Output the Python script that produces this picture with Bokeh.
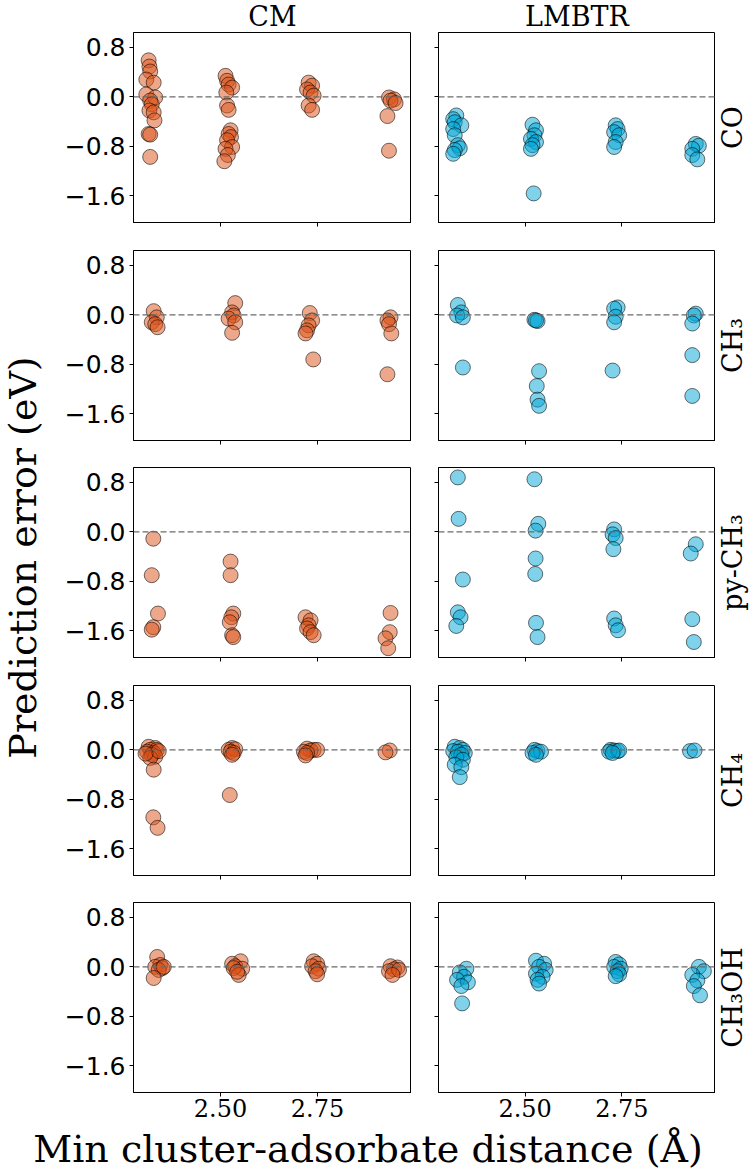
from bokeh.plotting import figure
from bokeh.layouts import row, column
from bokeh.models import (Range1d, FixedTicker, CustomJSTickFormatter, Span, Label)
from bokeh.embed import file_html
from bokeh.resources import INLINE

# ---------------- data ----------------
METHODS = ["CM", "LMBTR"]
ADSORBATES = ["CO", "CH₃", "py-CH₃", "CH₄", "CH₃OH"]
X_TICKS = [2.50, 2.75]
Y_TICKS = [-1.6, -0.8, 0.0, 0.8]
X_RANGE = (2.276, 2.992)
Y_RANGE = (-2.03, 1.04)
X_LABEL = "Min cluster-adsorbate distance (Å)"
Y_LABEL = "Prediction error (eV)"

CO_CM_X = [2.315, 2.317, 2.319, 2.309, 2.328, 2.309, 2.332, 2.319, 2.323, 2.317, 2.328, 2.330, 2.315, 2.319, 2.319,
           2.513, 2.517, 2.521, 2.530, 2.515, 2.517, 2.521, 2.526, 2.521, 2.527, 2.517, 2.530, 2.513, 2.519, 2.510,
           2.727, 2.736, 2.723, 2.732, 2.740, 2.727, 2.736,
           2.934, 2.947, 2.938, 2.951, 2.930, 2.934]
CO_CM_Y = [0.59, 0.49, 0.41, 0.28, 0.23, 0.04, -0.01, -0.06, -0.12, -0.22, -0.25, -0.38, -0.60, -0.61, -0.97,
           0.34, 0.26, 0.20, 0.15, 0.07, -0.14, -0.21, -0.54, -0.60, -0.65, -0.70, -0.81, -0.84, -0.94, -1.04,
           0.23, 0.18, 0.12, 0.07, 0.02, -0.14, -0.21,
           -0.01, -0.04, -0.06, -0.10, -0.31, -0.87]
CO_LMBTR_X = [2.322, 2.314, 2.318, 2.335, 2.314, 2.318, 2.326, 2.331, 2.318, 2.314,
              2.519, 2.528, 2.524, 2.515, 2.528, 2.519, 2.515, 2.522,
              2.734, 2.739, 2.730, 2.743, 2.734, 2.730,
              2.941, 2.949, 2.932, 2.932, 2.945]
CO_LMBTR_Y = [-0.30, -0.36, -0.41, -0.46, -0.52, -0.62, -0.78, -0.83, -0.86, -0.92,
              -0.45, -0.54, -0.62, -0.68, -0.73, -0.78, -0.84, -1.56,
              -0.46, -0.52, -0.57, -0.62, -0.73, -0.81,
              -0.76, -0.79, -0.84, -0.94, -1.01]

CH3_CM_X = [2.328, 2.336, 2.323, 2.332, 2.338,
            2.538, 2.530, 2.534, 2.521, 2.538, 2.530,
            2.730, 2.736, 2.727, 2.723, 2.719, 2.739,
            2.938, 2.930, 2.934, 2.940, 2.930]
CH3_CM_Y = [0.06, -0.04, -0.12, -0.15, -0.20,
            0.19, 0.04, -0.01, -0.06, -0.12, -0.29,
            0.03, -0.09, -0.17, -0.25, -0.30, -0.72,
            -0.04, -0.09, -0.15, -0.30, -0.96]
CH3_LMBTR_X = [2.326, 2.335, 2.324, 2.339, 2.339,
               2.524, 2.532, 2.528, 2.536, 2.530, 2.532, 2.536,
               2.739, 2.730, 2.734, 2.730, 2.726,
               2.941, 2.936, 2.932, 2.932, 2.932]
CH3_LMBTR_Y = [0.16, 0.04, -0.01, -0.04, -0.85,
               -0.08, -0.10, -0.09, -0.91, -1.15, -1.37, -1.47,
               0.12, 0.10, -0.03, -0.12, -0.90,
               0.02, -0.01, -0.14, -0.65, -1.31]

PYCH3_CM_X = [2.327, 2.323, 2.339, 2.327, 2.323,
              2.526, 2.526, 2.533, 2.528, 2.524, 2.530, 2.533,
              2.719, 2.732, 2.727, 2.723, 2.732, 2.740,
              2.938, 2.936, 2.925, 2.932]
PYCH3_CM_Y = [-0.11, -0.70, -1.32, -1.54, -1.58,
              -0.48, -0.70, -1.32, -1.38, -1.46, -1.67, -1.70,
              -1.38, -1.43, -1.51, -1.56, -1.62, -1.67,
              -1.31, -1.62, -1.72, -1.88]
PYCH3_LMBTR_X = [2.326, 2.328, 2.339, 2.326, 2.333, 2.322,
                 2.524, 2.534, 2.527, 2.527, 2.526, 2.528, 2.532,
                 2.730, 2.726, 2.734, 2.728, 2.730, 2.734, 2.740,
                 2.941, 2.928, 2.932, 2.936]
PYCH3_LMBTR_Y = [0.88, 0.21, -0.77, -1.30, -1.38, -1.52,
                 0.85, 0.13, 0.02, -0.43, -0.68, -1.47, -1.70,
                 0.04, -0.04, -0.10, -0.28, -1.40, -1.51, -1.59,
                 -0.20, -0.35, -1.41, -1.78]

CH4_CM_X = [2.315, 2.332, 2.319, 2.336, 2.311, 2.328, 2.323, 2.332, 2.319, 2.328, 2.327, 2.338, 2.341, 2.307,
            2.530, 2.521, 2.538, 2.526, 2.534, 2.530, 2.524,
            2.723, 2.740, 2.732, 2.715, 2.749, 2.723, 2.719,
            2.936, 2.925]
CH4_CM_Y = [0.05, 0.03, 0.00, 0.00, -0.03, -0.05, -0.08, -0.11, -0.13, -0.32, -1.09, -1.26, -0.02, -0.06,
            0.03, 0.00, 0.01, -0.03, -0.05, -0.08, -0.73,
            0.02, 0.00, -0.01, -0.03, 0.00, -0.05, -0.09,
            -0.01, -0.04]
CH4_LMBTR_X = [2.318, 2.331, 2.339, 2.314, 2.326, 2.344, 2.335, 2.322, 2.339, 2.318, 2.335, 2.331,
               2.524, 2.532, 2.541, 2.519, 2.528,
               2.721, 2.730, 2.739, 2.717, 2.743, 2.726,
               2.926, 2.938]
CH4_LMBTR_Y = [0.05, 0.03, 0.00, -0.02, -0.03, -0.05, -0.08, -0.12, -0.16, -0.24, -0.28, -0.44,
               0.00, -0.02, -0.03, -0.05, -0.08,
               0.00, -0.01, -0.02, -0.03, -0.01, -0.05,
               -0.02, -0.01]

CH3OH_CM_X = [2.337, 2.345, 2.332, 2.350, 2.341, 2.328, 2.354,
              2.552, 2.530, 2.538, 2.556, 2.534, 2.547, 2.543,
              2.740, 2.749, 2.736, 2.753, 2.745, 2.749,
              2.938, 2.956, 2.947, 2.934, 2.960, 2.943]
CH3OH_CM_Y = [0.16, 0.03, 0.00, -0.02, -0.05, -0.18, 0.00,
              0.09, 0.05, 0.01, -0.03, -0.02, -0.13, -0.08,
              0.09, 0.05, 0.01, -0.03, -0.07, -0.12,
              0.01, -0.01, -0.04, -0.07, -0.05, -0.13]
CH3OH_LMBTR_X = [2.348, 2.331, 2.342, 2.324, 2.352, 2.335, 2.337,
                 2.528, 2.549, 2.536, 2.553, 2.528, 2.545, 2.532, 2.536,
                 2.734, 2.743, 2.730, 2.747, 2.739, 2.743, 2.734,
                 2.949, 2.962, 2.932, 2.945, 2.936, 2.952]
CH3OH_LMBTR_Y = [-0.03, -0.09, -0.16, -0.21, -0.25, -0.31, -0.59,
                 0.10, 0.05, 0.00, -0.05, -0.11, -0.16, -0.21, -0.27,
                 0.08, 0.04, 0.00, -0.03, -0.07, -0.12, -0.15,
                 0.00, -0.07, -0.13, -0.22, -0.31, -0.46]

PANEL_DATA = [
    [(CO_CM_X, CO_CM_Y), (CO_LMBTR_X, CO_LMBTR_Y)],
    [(CH3_CM_X, CH3_CM_Y), (CH3_LMBTR_X, CH3_LMBTR_Y)],
    [(PYCH3_CM_X, PYCH3_CM_Y), (PYCH3_LMBTR_X, PYCH3_LMBTR_Y)],
    [(CH4_CM_X, CH4_CM_Y), (CH4_LMBTR_X, CH4_LMBTR_Y)],
    [(CH3OH_CM_X, CH3OH_CM_Y), (CH3OH_LMBTR_X, CH3OH_LMBTR_Y)],
]
COLORS = ["#DC5218", "#00A6D6"]

# ---------------- style / layout ----------------
SERIF = "DejaVu Serif"
SANS = "DejaVu Sans"
PAGE_W, PAGE_H = 750, 1170
YSTRIP_W = 45
RSTRIP_W = 35
TOP_H = 32
FRAME_H = 190
GAPS = [28, 27, 28, 27]
BOTTOM_EXTRA = 34
LEFT_BORDER = 88
LEFT_FRAME_W = 278
RIGHT_BORDER = 27
RIGHT_FRAME_W = 277
LEFT_W = LEFT_BORDER + LEFT_FRAME_W
RIGHT_W = RIGHT_BORDER + RIGHT_FRAME_W

y_fmt = CustomJSTickFormatter(code="return tick.toFixed(1).replace('-', '\u2212');")
x_fmt = CustomJSTickFormatter(code="return tick.toFixed(2);")
blank_fmt = CustomJSTickFormatter(code="return '';")


def text_strip(w, h):
    s = figure(width=w, height=h, output_backend="svg", toolbar_location=None,
               title=None, x_range=Range1d(0, w), y_range=Range1d(0, h),
               x_axis_location=None, y_axis_location=None,
               min_border=0, outline_line_color=None)
    s.grid.visible = False
    return s


n_rows = len(ADSORBATES)
rows = []
frame_tops = []
cur = TOP_H
for r, ads in enumerate(ADSORBATES):
    frame_tops.append(cur)
    bottom = BOTTOM_EXTRA if r == n_rows - 1 else GAPS[r]
    cur += FRAME_H + bottom
    h = FRAME_H + bottom
    figs = []
    for c, meth in enumerate(METHODS):
        if c == 0:
            w, bl = LEFT_W, LEFT_BORDER
        else:
            w, bl = RIGHT_W, RIGHT_BORDER
        p = figure(width=w, height=h, output_backend="svg", toolbar_location=None,
                   title=None, x_range=Range1d(*X_RANGE), y_range=Range1d(*Y_RANGE),
                   min_border_left=bl, min_border_right=0,
                   min_border_top=0, min_border_bottom=bottom)
        p.grid.visible = False
        p.outline_line_color = "black"
        p.outline_line_width = 1
        p.outline_line_alpha = 1
        p.background_fill_color = "white"
        p.border_fill_color = "white"
        for ax in (p.xaxis[0], p.yaxis[0]):
            ax.axis_line_color = "black"
            ax.major_tick_line_color = "black"
            ax.major_tick_out = 4
            ax.major_tick_in = 0
            ax.minor_tick_line_color = None
        p.xaxis.ticker = FixedTicker(ticks=X_TICKS, minor_ticks=[])
        p.yaxis.ticker = FixedTicker(ticks=Y_TICKS, minor_ticks=[])
        if c == 0:
            p.yaxis.formatter = y_fmt
            p.yaxis.major_label_text_font = SANS
            p.yaxis.major_label_text_font_size = "25px"
            p.yaxis.major_label_standoff = 4
            p.yaxis.major_label_text_color = "black"
        else:
            p.yaxis.formatter = blank_fmt
            p.yaxis.major_label_text_font_size = "1px"
        if r == n_rows - 1:
            p.xaxis.formatter = x_fmt
            p.xaxis.major_label_text_font = SERIF
            p.xaxis.major_label_text_font_size = "24px"
            p.xaxis.major_label_standoff = 2
            p.xaxis.major_label_text_color = "black"
        else:
            p.xaxis.formatter = blank_fmt
            p.xaxis.major_label_text_font_size = "1px"

        p.add_layout(Span(location=0, dimension="width", line_color="#6b6b6b",
                          line_dash="6 3", line_width=1.2))
        xs, ys = PANEL_DATA[r][c]
        p.scatter(xs, ys, size=15, fill_color=COLORS[c], fill_alpha=0.5,
                  line_color="black", line_alpha=0.55, line_width=1)
        figs.append(p)
    rows.append(row(*figs))

grid_h = cur

# column titles
top_strip = text_strip(LEFT_W + RIGHT_W, TOP_H)
col_centers = [LEFT_BORDER + LEFT_FRAME_W / 2, LEFT_W + RIGHT_BORDER + RIGHT_FRAME_W / 2]
for meth, cx in zip(METHODS, col_centers):
    top_strip.add_layout(Label(x=cx, y=TOP_H / 2, text=meth, text_align="center",
                               text_baseline="middle", text_font=SERIF,
                               text_font_size="27px", text_color="black"))

# row labels
rstrip = text_strip(RSTRIP_W, grid_h)
for r, ads in enumerate(ADSORBATES):
    cy = grid_h - (frame_tops[r] + FRAME_H / 2)
    rstrip.add_layout(Label(x=17, y=cy, text=ads, angle=90, angle_units="deg",
                            text_align="center", text_baseline="middle",
                            text_font=SERIF, text_font_size="27px", text_color="black"))

# y label
ystrip = text_strip(YSTRIP_W, grid_h)
ystrip.add_layout(Label(x=YSTRIP_W / 2, y=grid_h / 2 + 6, text=Y_LABEL, angle=90, angle_units="deg",
                        text_align="center", text_baseline="middle",
                        text_font=SERIF, text_font_size="38px", text_color="black"))

# x label
xstrip = text_strip(PAGE_W, PAGE_H - grid_h)
xstrip.add_layout(Label(x=PAGE_W * 0.49, y=(PAGE_H - grid_h) / 2, text=X_LABEL,
                        text_align="center", text_baseline="middle",
                        text_font=SERIF, text_font_size="38px", text_color="black"))

page = column(row(ystrip, column(top_strip, *rows), rstrip), xstrip)

open("out.html", "w", encoding="utf-8").write(file_html(page, INLINE))
